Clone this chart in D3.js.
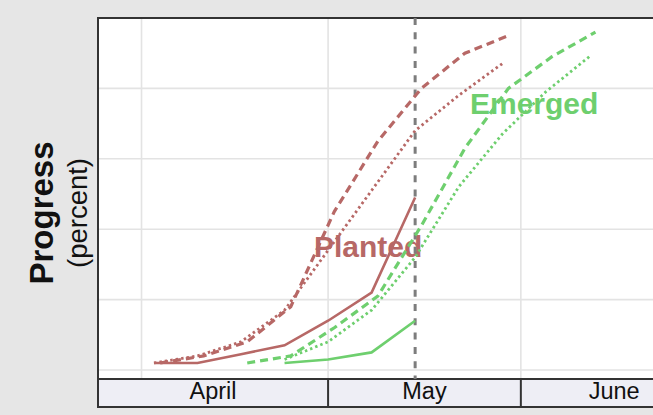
<!DOCTYPE html>
<html>
<head>
<meta charset="utf-8">
<script src="https://cdn.jsdelivr.net/npm/d3@7"></script>
<style>
  body { margin: 0; background: #e6e6e6; }
  svg { display: block; font-family: "Liberation Sans", Arial, sans-serif; }
</style>
</head>
<body>
<div id="chart"></div>
<script>
// months shown in the band under the plot
const months = ["April", "May", "June"];
const monthStarts = ["2024-04-01", "2024-05-01", "2024-06-01"];
const bandStarts = ["2024-03-25", "2024-05-01", "2024-06-01"];
const bandEnds = ["2024-05-01", "2024-06-01", "2024-07-01"];
const yTicks = [0, 20, 40, 60, 80, 100];
const currentWeek = "2024-05-15";

// Planted
const plantedDates = ["2024-04-03", "2024-04-10", "2024-04-17", "2024-04-24", "2024-05-01", "2024-05-08", "2024-05-15"];
const plantedValues = [2, 2, 4.5, 7, 14, 22, 49];
const plantedLastDates = ["2024-04-03", "2024-04-10", "2024-04-17", "2024-04-24", "2024-05-01", "2024-05-08", "2024-05-15", "2024-05-22", "2024-05-29"];
const plantedLastValues = [2, 4, 8, 17, 34, 51, 68, 78, 87];
const plantedAvgDates = ["2024-04-04", "2024-04-11", "2024-04-18", "2024-04-25", "2024-05-02", "2024-05-09", "2024-05-16", "2024-05-23", "2024-05-30"];
const plantedAvgValues = [2, 4, 8, 18, 45, 65, 80, 90, 95];

// Emerged
const emergedDates = ["2024-04-24", "2024-05-01", "2024-05-08", "2024-05-15"];
const emergedValues = [2, 3, 5, 14];
const emergedLastDates = ["2024-04-24", "2024-05-01", "2024-05-08", "2024-05-15", "2024-05-22", "2024-05-29", "2024-06-05", "2024-06-12"];
const emergedLastValues = [3, 8, 17, 32, 52, 67, 79, 89];
const emergedAvgDates = ["2024-04-18", "2024-04-25", "2024-05-02", "2024-05-09", "2024-05-16", "2024-05-23", "2024-05-30", "2024-06-06", "2024-06-13"];
const emergedAvgValues = [2, 4, 12, 21, 41, 63, 80, 89, 96];

var width = 653;
var height = 415;
var red = "#b76866";
var green = "#6ecf6e";

var parse = d3.utcParse("%Y-%m-%d");

var x = d3.scaleUtc()
    .domain([parse("2024-03-25"), parse("2024-07-01")])
    .range([98, 707.4]);
var y = d3.scaleLinear()
    .domain([0, 100])
    .range([370, 18]);

var svg = d3.select("#chart").append("svg")
    .attr("width", width)
    .attr("height", height);

var plotBottom = 379;
var bandBottom = 407;

// plot background
svg.append("rect")
    .attr("x", x.range()[0]).attr("y", y(100))
    .attr("width", x.range()[1] - x.range()[0])
    .attr("height", plotBottom - y(100))
    .attr("fill", "#fff");

// grid
svg.append("g").selectAll("line")
    .data(yTicks.slice(0, -1))
    .enter().append("line")
    .attr("x1", x.range()[0]).attr("x2", x.range()[1])
    .attr("y1", d => y(d)).attr("y2", d => y(d))
    .attr("stroke", "#e3e3e3").attr("stroke-width", 1.6);

svg.append("g").selectAll("line")
    .data(monthStarts)
    .enter().append("line")
    .attr("x1", d => x(parse(d))).attr("x2", d => x(parse(d)))
    .attr("y1", y(100)).attr("y2", plotBottom)
    .attr("stroke", "#e3e3e3").attr("stroke-width", 1.6);

// month band
var band = svg.append("g");
band.append("rect")
    .attr("x", x.range()[0]).attr("y", plotBottom)
    .attr("width", x.range()[1] - x.range()[0])
    .attr("height", bandBottom - plotBottom)
    .attr("fill", "#eeeef5")
    .attr("stroke", "#333").attr("stroke-width", 2);

band.selectAll("line.sep")
    .data(bandStarts.slice(1))
    .enter().append("line")
    .attr("class", "sep")
    .attr("x1", d => x(parse(d))).attr("x2", d => x(parse(d)))
    .attr("y1", plotBottom).attr("y2", bandBottom)
    .attr("stroke", "#333").attr("stroke-width", 2);

band.selectAll("text")
    .data(months)
    .enter().append("text")
    .attr("x", (d, i) => (x(parse(bandStarts[i])) + x(parse(bandEnds[i]))) / 2)
    .attr("y", 399)
    .attr("text-anchor", "middle")
    .attr("font-size", 23.5)
    .attr("fill", "#111")
    .text(d => d);

// frame (left and top)
svg.append("line")
    .attr("x1", 98).attr("x2", 98).attr("y1", 17).attr("y2", bandBottom + 1)
    .attr("stroke", "#333").attr("stroke-width", 2);
svg.append("line")
    .attr("x1", 97).attr("x2", width).attr("y1", 18).attr("y2", 18)
    .attr("stroke", "#333").attr("stroke-width", 2);

// axis title
var title = svg.append("g")
    .attr("transform", "translate(0,213) rotate(-90)");
title.append("text")
    .attr("x", 0).attr("y", 53)
    .attr("text-anchor", "middle")
    .attr("font-size", 33).attr("font-weight", "bold")
    .attr("fill", "#111")
    .text("Progress");
title.append("text")
    .attr("x", 0).attr("y", 87)
    .attr("text-anchor", "middle")
    .attr("font-size", 27.5)
    .attr("fill", "#111")
    .text("(percent)");

// labels
svg.append("text")
    .attr("x", 314).attr("y", 257)
    .attr("font-size", 30).attr("font-weight", "bold")
    .attr("fill", red)
    .text("Planted");
svg.append("text")
    .attr("x", 470).attr("y", 114)
    .attr("font-size", 30).attr("font-weight", "bold")
    .attr("fill", green)
    .text("Emerged");

// current week marker
svg.append("line")
    .attr("x1", x(parse(currentWeek))).attr("x2", x(parse(currentWeek)))
    .attr("y1", y(100)).attr("y2", plotBottom)
    .attr("stroke", "#7d7d7d").attr("stroke-width", 3)
    .attr("stroke-dasharray", "7,7.3");

// series
var line = d3.line()
    .x(d => x(d.date))
    .y(d => y(d.value));

function toPoints(dates, values) {
    return dates.map((d, i) => ({ date: parse(d), value: values[i] }));
}

var series = [
    { pts: toPoints(plantedAvgDates, plantedAvgValues), color: red, dash: "8,5", w: 3.2 },
    { pts: toPoints(plantedLastDates, plantedLastValues), color: red, dash: "2.5,3", w: 2.8 },
    { pts: toPoints(emergedAvgDates, emergedAvgValues), color: green, dash: "8,5", w: 3.2 },
    { pts: toPoints(emergedLastDates, emergedLastValues), color: green, dash: "2.5,3", w: 2.8 },
    { pts: toPoints(plantedDates, plantedValues), color: red, dash: null, w: 2.6 },
    { pts: toPoints(emergedDates, emergedValues), color: green, dash: null, w: 2.6 }
];

svg.append("g").selectAll("path")
    .data(series)
    .enter().append("path")
    .attr("d", d => line(d.pts))
    .attr("fill", "none")
    .attr("stroke", d => d.color)
    .attr("stroke-width", d => d.w)
    .attr("stroke-dasharray", d => d.dash);
</script>
</body>
</html>
